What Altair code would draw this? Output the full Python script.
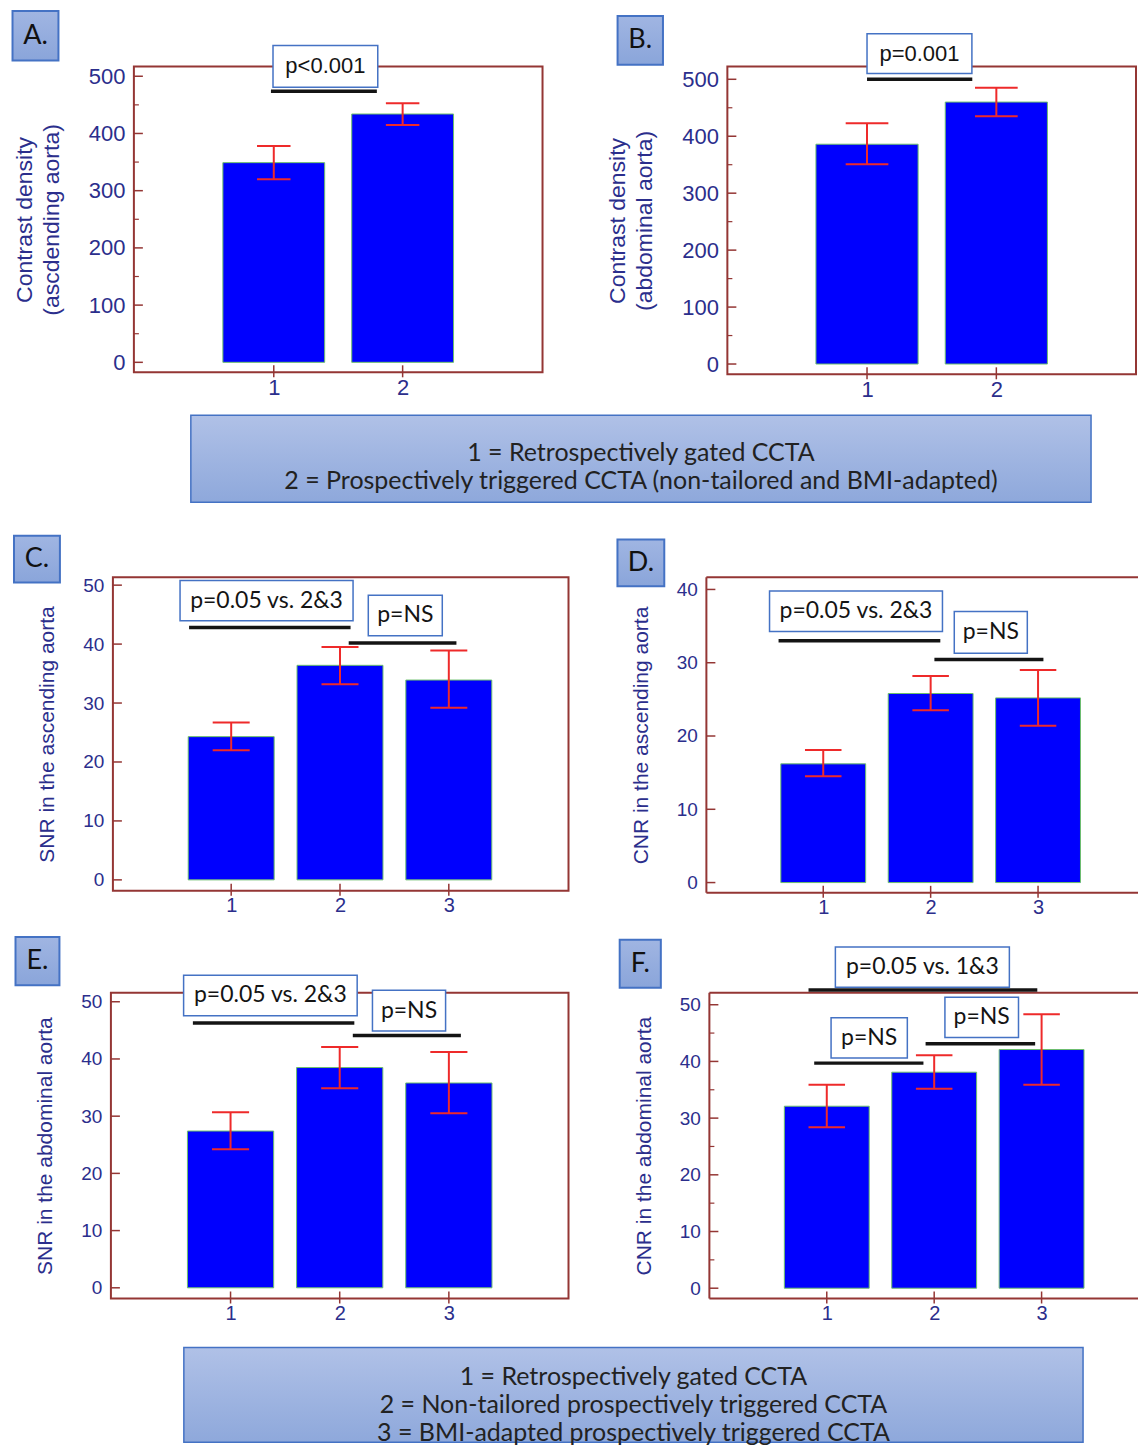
import altair as alt
import pandas as pd

# ---------------- values ----------------
GROUPS_AB = [1, 2]
GROUPS_CF = [1, 2, 3]

A_MEAN = [349, 434]
A_LOW = [320, 415]
A_HIGH = [378, 453]

B_MEAN = [386, 460]
B_LOW = [351, 435]
B_HIGH = [423, 485]

C_MEAN = [24.3, 36.4, 33.9]
C_LOW = [22.0, 33.2, 29.2]
C_HIGH = [26.7, 39.5, 38.9]

D_MEAN = [16.2, 25.8, 25.2]
D_LOW = [14.5, 23.5, 21.4]
D_HIGH = [18.1, 28.2, 29.0]

E_MEAN = [27.4, 38.5, 35.8]
E_LOW = [24.2, 34.9, 30.5]
E_HIGH = [30.7, 42.1, 41.2]

F_MEAN = [32.1, 38.1, 42.1]
F_LOW = [28.4, 35.2, 35.9]
F_HIGH = [35.9, 41.1, 48.3]

TICKS_500 = [0, 100, 200, 300, 400, 500]
MINOR_500 = [50, 150, 250, 350, 450]
TICKS_50 = [0, 10, 20, 30, 40, 50]
MINOR_50 = [5, 15, 25, 35, 45]
TICKS_40 = [0, 10, 20, 30, 40]

Y_TITLE_A = ["Contrast density", "(ascdending aorta)"]
Y_TITLE_B = ["Contrast density", "(abdominal aorta)"]
Y_TITLE_C = "SNR in the ascending aorta"
Y_TITLE_D = "CNR in the ascending aorta"
Y_TITLE_E = "SNR in the abdominal aorta"
Y_TITLE_F = "CNR in the abdominal aorta"

LEGEND_TOP = ["1 = Retrospectively gated CCTA",
              "2 = Prospectively triggered CCTA (non-tailored and BMI-adapted)"]
LEGEND_BOTTOM = ["1 = Retrospectively gated CCTA",
                 "2 = Non-tailored prospectively triggered CCTA",
                 "3 = BMI-adapted prospectively triggered CCTA"]

# ------------- annotation placement (data units of each panel) -------------
ANNOT = {
    "A": dict(label="A.", lbox=(-1.0275, -0.671, 527.5, 614.0),
              pboxes=[("p<0.001", 0.994, 1.807, 480.7, 553.8)],
              lines=[(0.978, 1.80, 473.7)]),
    "B": dict(label="B.", lbox=(-0.929, -0.578, 525.7, 611.0),
              pboxes=[("p=0.001", 1.0, 1.811, 510.0, 580.0)],
              lines=[(1.0, 1.814, 500.0)]),
    "C": dict(label="C.", lbox=(-0.996, -0.574, 50.45, 58.4),
              pboxes=[("p=0.05 vs. 2&3", 0.53, 2.12, 43.95, 50.8),
                      ("p=NS", 2.26, 2.94, 41.4, 48.3)],
              lines=[(0.613, 2.097, 42.8), (2.08, 3.07, 40.2)]),
    "D": dict(label="D.", lbox=(-0.916, -0.48, 40.45, 46.8),
              pboxes=[("p=0.05 vs. 2&3", 0.5, 2.11, 34.25, 39.8),
                      ("p=NS", 2.22, 2.9, 31.3, 37.0)],
              lines=[(0.584, 2.09, 33.0), (2.035, 3.05, 30.45)]),
    "E": dict(label="E.", lbox=(-0.970, -0.5675, 52.9, 61.3),
              pboxes=[("p=0.05 vs. 2&3", 0.57, 2.16, 47.56, 54.65),
                      ("p=NS", 2.30, 2.97, 44.9, 52.0)],
              lines=[(0.655, 2.134, 46.3), (2.12, 3.11, 44.1)]),
    "F": dict(label="F.", lbox=(-0.928, -0.545, 52.98, 61.45),
              pboxes=[("p=0.05 vs. 1&3", 1.08, 2.70, 53.1, 60.2),
                      ("p=NS", 1.04, 1.75, 40.6, 47.7),
                      ("p=NS", 2.1, 2.785, 44.2, 51.3)],
              lines=[(0.83, 2.96, 52.6), (0.883, 1.90, 39.7), (1.92, 2.94, 43.1)]),
}

# ---------------- geometry & styles ----------------
GEOM = {
    "A": dict(w=409, h=306, xdom=[-0.0856, 3.0856], ydom=[-17.46, 516.9], open_right=False),
    "B": dict(w=409, h=308, xdom=[-0.08, 3.08], ydom=[-18.07, 522.3], open_right=False),
    "C": dict(w=456, h=314, xdom=[-0.087, 4.10], ydom=[-1.864, 51.36], open_right=False),
    "D": dict(w=430, h=316, xdom=[-0.088, 3.912], ydom=[-1.404, 41.68], open_right=True),
    "E": dict(w=458, h=306, xdom=[-0.096, 4.096], ydom=[-1.869, 51.57], open_right=False),
    "F": dict(w=427, h=306, xdom=[-0.093, 3.879], ydom=[-1.815, 52.11], open_right=True),
}
# left offset of each row's first frame and the gap between the two frames
ROW_GAPS = {"1": (123, 185), "2": (102, 138), "3": (100, 141)}

FRAME = "#943634"
NAVY = "#2b2e8c"
RED = "#ee2a2a"
BLUE = "#0000fe"
GREEN = "#6cbf6c"
BOX_BLUE = "#4472c4"
AX_FONT = "Liberation Sans"
TXT_FONT = "Lato"
BAR_HALF = 0.395


def grad(top, bottom):
    return alt.LinearGradient(
        gradient="linear", x1=0, x2=0, y1=0, y2=1,
        stops=[alt.GradientStop(color=top, offset=0),
               alt.GradientStop(color=bottom, offset=1)])


def panel(key, groups, mean, low, high, yticks, minor, ytitle,
          ylab_fs, xlab_fs, title_fs, cap_half, p_font, p_fs):
    g = GEOM[key]
    a = ANNOT[key]
    W, H = g["w"], g["h"]
    xs = alt.Scale(domain=g["xdom"], nice=False, zero=False)
    ys = alt.Scale(domain=g["ydom"], nice=False, zero=False)
    df = pd.DataFrame({"g": groups, "m": mean, "lo": low, "hi": high})

    xaxis = alt.Axis(values=groups, format="d", title=None, grid=False,
                     domain=False, ticks=False, tickSize=0,
                     labelFont=AX_FONT, labelFontSize=xlab_fs,
                     labelColor=NAVY, labelPadding=5)
    yaxis = alt.Axis(values=yticks, title=ytitle, grid=False, domain=False,
                     ticks=False, tickSize=0, labelFont=AX_FONT,
                     labelFontSize=ylab_fs, labelColor=NAVY, labelPadding=9,
                     titleFont=AX_FONT, titleFontSize=title_fs,
                     titleColor=NAVY, titleFontWeight="normal",
                     titlePadding=25, titleLineHeight=27)

    def X(f):
        return alt.X(f, scale=xs, axis=xaxis)

    def Y(f):
        return alt.Y(f, scale=ys, axis=yaxis)

    bars = alt.Chart(df).transform_calculate(
        b1=f"datum.g - {BAR_HALF}", b2=f"datum.g + {BAR_HALF}"
    ).mark_bar(fill=BLUE, stroke=GREEN, strokeWidth=1).encode(
        x=X("b1:Q"), x2="b2:Q", y=Y("m:Q"), y2=alt.datum(0))

    stems = alt.Chart(df).mark_rule(color=RED, strokeWidth=2).encode(
        x=X("g:Q"), y=Y("lo:Q"), y2="hi:Q")

    caps = alt.Chart(df).transform_fold(
        ["lo", "hi"], as_=["k", "v"]
    ).transform_calculate(
        c1=f"datum.g - {cap_half}", c2=f"datum.g + {cap_half}"
    ).mark_rule(color=RED, strokeWidth=2).encode(
        x=X("c1:Q"), x2="c2:Q", y=Y("v:Q"))

    ymaj = alt.Chart(pd.DataFrame({"v": yticks})).mark_rule(
        color=FRAME, strokeWidth=1.5).encode(
        y=Y("v:Q"), x=alt.value(0), x2=alt.value(9))

    xtk = alt.Chart(pd.DataFrame({"g": groups})).mark_rule(
        color=FRAME, strokeWidth=1.5).encode(
        x=X("g:Q"), y=alt.value(H - 7), y2=alt.value(H + 5))

    ldf = pd.DataFrame(a["lines"], columns=["x1", "x2", "y"])
    sig = alt.Chart(ldf).mark_rule(color="#141414", strokeWidth=3.5).encode(
        x=X("x1:Q"), x2="x2:Q", y=Y("y:Q"))

    pdf = pd.DataFrame(a["pboxes"], columns=["t", "x1", "x2", "y1", "y2"])
    pbox = alt.Chart(pdf).mark_rect(
        fill="white", stroke=BOX_BLUE, strokeWidth=1.5).encode(
        x=X("x1:Q"), x2="x2:Q", y=Y("y1:Q"), y2="y2:Q")
    ptxt = alt.Chart(pdf).transform_calculate(
        xc="(datum.x1 + datum.x2) / 2", yc="(datum.y1 + datum.y2) / 2"
    ).mark_text(font=p_font, fontSize=p_fs, color="#141414",
                align="center", baseline="middle").encode(
        x=X("xc:Q"), y=Y("yc:Q"), text="t:N")

    lx1, lx2, ly1, ly2 = a["lbox"]
    lab_df = pd.DataFrame({"t": [a["label"]], "x1": [lx1], "x2": [lx2],
                           "y1": [ly1], "y2": [ly2]})
    lbox = alt.Chart(lab_df).mark_rect(
        fill=grad("#a0b5e2", "#8aa5da"), stroke=BOX_BLUE, strokeWidth=2
    ).encode(x=X("x1:Q"), x2="x2:Q", y=Y("y1:Q"), y2="y2:Q")
    ltxt = alt.Chart(lab_df).transform_calculate(
        xc="(datum.x1 + datum.x2) / 2", yc="(datum.y1 + datum.y2) / 2"
    ).mark_text(font=TXT_FONT, fontSize=27, color="#111111",
                align="center", baseline="middle").encode(
        x=X("xc:Q"), y=Y("yc:Q"), text="t:N")

    layers = []
    if g["open_right"]:
        # frame cut by the right edge of the page: top, bottom and left sides only
        fr = pd.DataFrame({"a": [0]})
        for enc in (dict(x=alt.value(0), x2=alt.value(W + 2), y=alt.value(0)),
                    dict(x=alt.value(0), x2=alt.value(W + 2), y=alt.value(H)),
                    dict(x=alt.value(0), y=alt.value(0), y2=alt.value(H))):
            layers.append(alt.Chart(fr).mark_rule(color=FRAME, strokeWidth=2)
                          .encode(**enc))
    layers += [bars, ymaj]
    if minor:
        layers.append(alt.Chart(pd.DataFrame({"v": minor})).mark_rule(
            color=FRAME, strokeWidth=1.2).encode(
            y=Y("v:Q"), x=alt.value(0), x2=alt.value(5)))
    layers += [xtk, stems, caps, sig, pbox, ptxt, lbox, ltxt]

    if g["open_right"]:
        view = alt.ViewBackground(strokeWidth=0, fill="white")
    else:
        view = alt.ViewBackground(stroke=FRAME, strokeWidth=2, fill="white")
    return alt.layer(*layers).properties(width=W, height=H, view=view)


def spacer(w):
    return alt.Chart(pd.DataFrame({"a": [0]})).mark_rule(opacity=0).encode(
        x=alt.value(0), x2=alt.value(w), y=alt.value(0)
    ).properties(width=w, height=1, view=alt.ViewBackground(strokeWidth=0))


def row(left, right, key):
    lead, gap = ROW_GAPS[key]
    return alt.hconcat(spacer(lead), left, spacer(gap), right,
                       spacing=0, bounds="flush")


def legend(lines, W, H, box_left, line_range):
    box = alt.Chart(pd.DataFrame({"a": [0]})).mark_rect(
        fill=grad("#b0c1e7", "#8ea8db"), stroke=BOX_BLUE, strokeWidth=1.5
    ).encode(x=alt.value(box_left), x2=alt.value(W),
             y=alt.value(0), y2=alt.value(H))
    tdf = pd.DataFrame({"i": list(range(len(lines))), "t": lines})
    txt = alt.Chart(tdf).mark_text(
        font=TXT_FONT, fontSize=25, color="#222222", align="center",
        baseline="middle").encode(
        x=alt.value((box_left + W) / 2),
        y=alt.Y("i:O", axis=None,
                scale=alt.Scale(type="point", range=line_range, padding=0)),
        text="t:N")
    return alt.layer(box, txt).properties(
        width=W, height=H, view=alt.ViewBackground(strokeWidth=0))


pA = panel("A", GROUPS_AB, A_MEAN, A_LOW, A_HIGH, TICKS_500, MINOR_500,
           Y_TITLE_A, 22, 22, 23, 0.13, AX_FONT, 22)
pB = panel("B", GROUPS_AB, B_MEAN, B_LOW, B_HIGH, TICKS_500, MINOR_500,
           Y_TITLE_B, 22, 22, 23, 0.165, AX_FONT, 22)
pC = panel("C", GROUPS_CF, C_MEAN, C_LOW, C_HIGH, TICKS_50, None,
           Y_TITLE_C, 19, 20, 21, 0.17, TXT_FONT, 23)
pD = panel("D", GROUPS_CF, D_MEAN, D_LOW, D_HIGH, TICKS_40, None,
           Y_TITLE_D, 19, 20, 21, 0.17, TXT_FONT, 23)
pE = panel("E", GROUPS_CF, E_MEAN, E_LOW, E_HIGH, TICKS_50, None,
           Y_TITLE_E, 19, 20, 21, 0.17, TXT_FONT, 23)
pF = panel("F", GROUPS_CF, F_MEAN, F_LOW, F_HIGH, TICKS_50, MINOR_50,
           Y_TITLE_F, 19, 20, 21, 0.17, TXT_FONT, 23)

row1 = row(pA, pB, "1")
row2 = row(pC, pD, "2")
row3 = row(pE, pF, "3")

# legend views start at the common left origin (page x = 10)
leg1 = legend(LEGEND_TOP, 1081, 87, 180, [38, 66])
leg2 = legend(LEGEND_BOTTOM, 1073, 95, 173, [30, 86])

chart = alt.vconcat(
    alt.vconcat(row1, leg1, spacing=13),
    alt.vconcat(alt.vconcat(row2, row3, spacing=17), leg2, spacing=22),
    spacing=30,
).properties(
    padding={"left": 2, "top": 0, "right": 0, "bottom": 0}
).configure_view(strokeWidth=0).configure(background="white")

chart.save("out.html", embed_options={"renderer": "svg", "actions": False})
